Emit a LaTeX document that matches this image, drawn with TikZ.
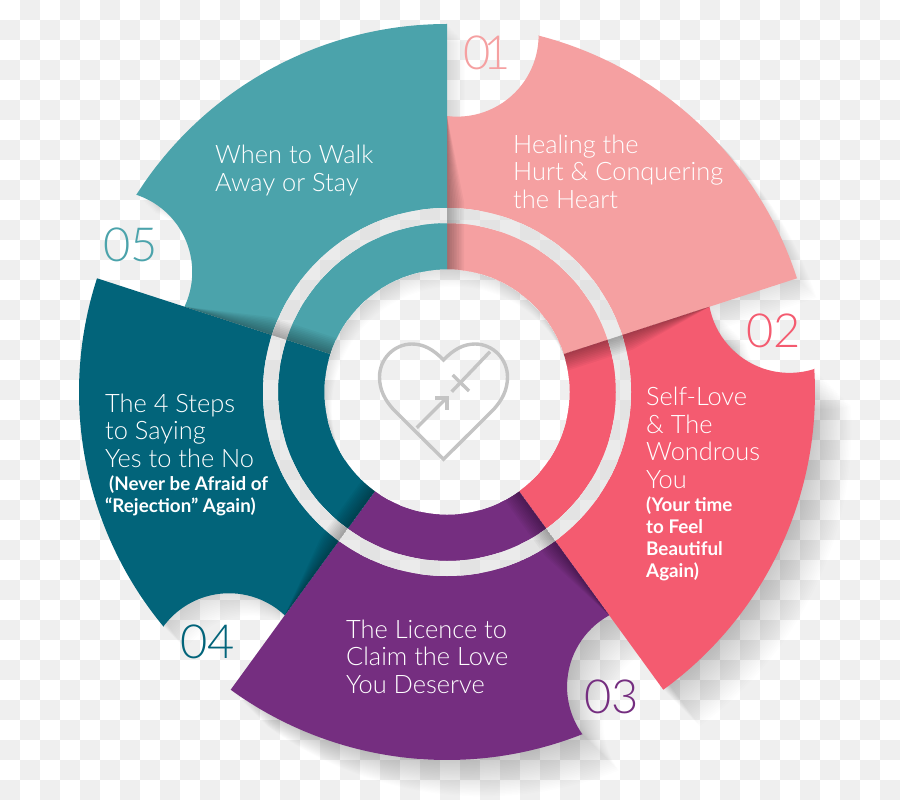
\documentclass[tikz,border=0pt]{standalone}
\usepackage{fontspec}
\newfontfamily\labelfont{Lato Light}
\newfontfamily\notefont{Lato Bold}
\definecolor{cteal}{HTML}{4BA3AB}
\definecolor{cpink}{HTML}{F5A0A1}
\definecolor{cred}{HTML}{F45B70}
\definecolor{cplum}{HTML}{752E80}
\definecolor{cdeep}{HTML}{02647A}
\definecolor{cgrid}{HTML}{EFEFEF}
\definecolor{cicon}{HTML}{C4C4C4}
\definecolor{cring}{HTML}{D8D8D8}
% One wedge of the wheel, in a frame where it spans 18 to 90 degrees about the origin
\newcommand{\wedgepath}{(0,122) -- (0,276) arc[start angle=-97.2,end angle=-0.2,radius=81.4] -- (75.66:368)
  arc[start angle=75.66,end angle=18,radius=368] -- (18:122) arc[start angle=18,end angle=90,radius=122] -- cycle}
\newcommand{\checks}{%
  \fill[white] (0,0) rectangle (900,-800);
  \foreach \i in {0,...,44}{\foreach \j in {0,...,39}{%
    \pgfmathparse{int(mod(\i+\j,2))}\ifnum\pgfmathresult=1
      \fill[cgrid] (20*\i,-20*\j) rectangle ++(20,-20);\fi}}}
% Soft edge shadow lying along the wedge's upper straight side
\newcommand{\edgeshade}[1]{\foreach \k in {1,...,10}{%
  \fill[black,opacity=#1] (0,122) -- (1.7*\k,122) -- (1.7*\k,190) -- (0,276) -- cycle;}}
\tikzset{x=1pt,y=1pt,
  headline/.style={text=white,anchor=base west,inner sep=0pt,align=left,font=\labelfont\fontsize{25.4}{27.5}\selectfont},
  noteline/.style={text=white,anchor=base west,inner sep=0pt,align=left,font=\notefont\fontsize{18.8}{22}\selectfont},
  numeral/.style={anchor=base west,inner sep=0pt,font=\labelfont\fontsize{47}{47}\selectfont},
  iconline/.style={draw=cicon,line width=3.4pt,line join=miter}}
\begin{document}
\begin{tikzpicture}
\useasboundingbox (0,0) rectangle (900,-800);
\checks
% Cast shadows, falling towards the lower right
\foreach \ang/\reach in {0/14,72/26,144/26,216/16,288/13}{
  \foreach \k in {\reach,...,1}{
    \begin{scope}[shift={(447+1.4*\k,-392-1.4*\k)},rotate=-\ang]
      \fill[black,opacity=.009] \wedgepath;
    \end{scope}}}
% The five wedges
\foreach \ang/\col in {0/cpink,72/cred,144/cplum,216/cdeep,288/cteal}{
  \begin{scope}[shift={(447,-392)},rotate=-\ang]
    \fill[\col] \wedgepath;
    \clip \wedgepath;
    \edgeshade{.034}
  \end{scope}}
% Open centre and ring
\begin{scope}
  \clip (447,-392) circle (122.5);
  \checks
  \foreach \k in {1,...,14}{
    \fill[black,opacity=.009,even odd rule] (447,-392) circle (140) (447+.5*\k,-392-1.2*\k) circle (122);}
\end{scope}
\begin{scope}[even odd rule]
  \clip (447,-392) circle (184) (447,-392) circle (169);
  \checks
  \fill[cring,opacity=.5] (447,-392) circle (190);
  \foreach \ang in {0,72,144,216,288}{
    \begin{scope}[shift={(447,-392)},rotate=-\ang]
      \clip \wedgepath;
      \edgeshade{.03}
    \end{scope}}
\end{scope}
% Heart with arrow
\draw[iconline] (443.5,-360) .. controls (434,-350) and (424,-344) .. (412,-344)
  .. controls (394,-344) and (379.5,-359) .. (379.5,-377)
  .. controls (379.5,-390) and (385,-400) .. (393,-409)
  -- (443.5,-459.3) -- (494,-409)
  .. controls (502,-400) and (507.5,-390) .. (507.5,-377)
  .. controls (507.5,-359) and (493,-344) .. (475,-344)
  .. controls (463,-344) and (453,-350) .. (443.5,-360) -- cycle;
\draw[iconline] (416.7,-427.7) -- (447,-397.5);
\draw[iconline] (435,-398) -- (447,-398) -- (447,-410);
\draw[iconline] (451.7,-391.7) -- (490,-351.7);
\draw[iconline] (452.7,-375) -- (469,-391);
% Numerals
\node[numeral,text=cpink] (n1) at (463,-70) {0\kern-7pt 1};
\node[numeral,text=cred] (n2) at (746,-347) {02};
\node[numeral,text=cplum] (n3) at (584,-713) {03};
\node[numeral,text=cdeep] (n4) at (180,-658) {04};
\node[numeral,text=cteal] (n5) at (103,-261) {05};
% Labels; the anchor sits on each block's last line
\node[headline] (t1) at (513,-208) {Healing the\\Hurt \& Conquering\\the Heart};
\node[headline] (t2) at (646,-488) {Self-Love\\\& The\\Wondrous\\You};
\node[noteline] (b2) at (646,-577) {(Your time\\to Feel\\Beautiful\\Again)};
\node[headline] (t3) at (346,-693) {The Licence to\\Claim the Love\\You Deserve};
\node[headline] (t4) at (105,-467) {The 4 Steps\\to Saying\\Yes to the No};
\node[noteline] (b4) at (105,-512) {\hspace*{4pt}(Never be Afraid of\\“Rejection” Again)};
\node[headline] (t5) at (215,-191) {When to Walk\\Away or Stay};
\end{tikzpicture}
\end{document}
